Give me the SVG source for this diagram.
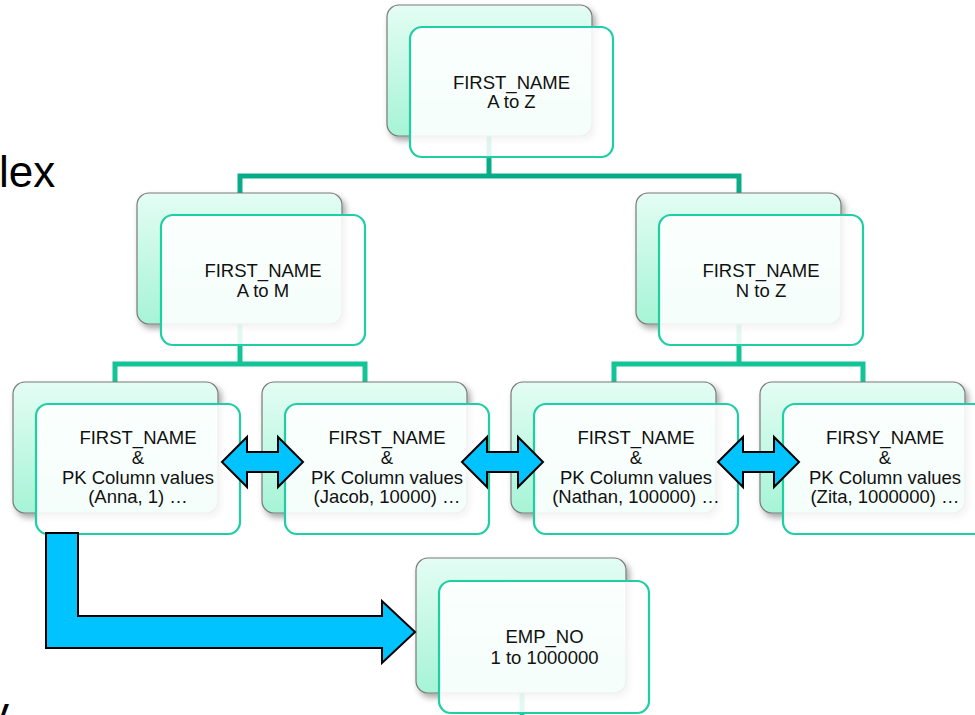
<svg xmlns="http://www.w3.org/2000/svg" width="975" height="715" viewBox="0 0 975 715">
  <defs>
    <linearGradient id="mint" x1="0" y1="0" x2="0" y2="1">
      <stop offset="0" stop-color="#e4fdf4"/>
      <stop offset="1" stop-color="#a6f4d6"/>
    </linearGradient>
    <filter id="shadow" x="-10%" y="-10%" width="125%" height="130%">
      <feDropShadow dx="3" dy="4" stdDeviation="3" flood-color="#000" flood-opacity="0.35"/>
    </filter>
  </defs>
  <style>
    .back { fill: url(#mint); stroke: #7a7a7a; stroke-width: 1.2; filter: url(#shadow); }
    .front { fill: #ffffff; fill-opacity: 0.88; stroke: #1fcfa4; stroke-width: 2.2; }
    .lbl { font-family: "Liberation Sans", Arial, sans-serif; font-size: 18.5px; fill: #111; text-anchor: middle; }
    .big { font-family: "Liberation Sans", Arial, sans-serif; font-size: 44px; fill: #000; }
    .wire { fill: none; stroke-width: 5; stroke-linejoin: miter; stroke-linecap: butt; }
    .w1 { stroke: #06ad87; }
    .w2 { stroke: #13c596; }
    .blue { fill: #00c3ff; stroke: #000; stroke-width: 2; stroke-linejoin: miter; }
  </style>

  <rect width="975" height="715" fill="#ffffff"/>

  <!-- partial heading text running off the left edge -->
  <text class="big" x="-1" y="187">lex</text>
  <text class="big" x="-13" y="728">y</text>

  <!-- tree connectors (drawn under the translucent front cards) -->
  <g id="connectors">
    <path class="wire w1" d="M489,136 V176 M240,193 V176 H739 V193"/>
    <path class="wire w2" d="M240,324 V364 M115,382 V364 H365 V382"/>
    <path class="wire w2" d="M739,324 V364 M614,382 V364 H863 V382"/>
    <path class="wire w2" d="M522,693 V715"/>
  </g>

  <g id="node-root">
    <rect class="back" x="387" y="5" width="205" height="131" rx="12"/>
    <rect class="front" x="410" y="27" width="203" height="130" rx="12"/>
    <text class="lbl" x="511.5" y="89">FIRST_NAME</text>
    <text class="lbl" x="511.5" y="108">A to Z</text>
  </g>

  <g id="node-a-m">
    <rect class="back" x="137" y="193" width="205" height="131" rx="12"/>
    <rect class="front" x="161" y="215" width="204" height="130" rx="12"/>
    <text class="lbl" x="263" y="277">FIRST_NAME</text>
    <text class="lbl" x="263" y="297">A to M</text>
  </g>

  <g id="node-n-z">
    <rect class="back" x="636" y="193" width="205" height="131" rx="12"/>
    <rect class="front" x="659" y="215" width="204" height="130" rx="12"/>
    <text class="lbl" x="761" y="277">FIRST_NAME</text>
    <text class="lbl" x="761" y="297">N to Z</text>
  </g>

  <g id="leaf-anna">
    <rect class="back" x="13" y="382" width="205" height="131" rx="12"/>
    <rect class="front" x="36" y="404" width="204" height="130" rx="12"/>
    <text class="lbl" x="138" y="444">FIRST_NAME</text>
    <text class="lbl" x="138" y="464">&amp;</text>
    <text class="lbl" x="138" y="484">PK Column values</text>
    <text class="lbl" x="138" y="503">(Anna, 1) …</text>
  </g>

  <g id="leaf-jacob">
    <rect class="back" x="262" y="382" width="205" height="131" rx="12"/>
    <rect class="front" x="285" y="404" width="204" height="130" rx="12"/>
    <text class="lbl" x="387" y="444">FIRST_NAME</text>
    <text class="lbl" x="387" y="464">&amp;</text>
    <text class="lbl" x="387" y="484">PK Column values</text>
    <text class="lbl" x="387" y="503">(Jacob, 10000) …</text>
  </g>

  <g id="leaf-nathan">
    <rect class="back" x="511" y="382" width="205" height="131" rx="12"/>
    <rect class="front" x="534" y="404" width="204" height="130" rx="12"/>
    <text class="lbl" x="636" y="444">FIRST_NAME</text>
    <text class="lbl" x="636" y="464">&amp;</text>
    <text class="lbl" x="636" y="484">PK Column values</text>
    <text class="lbl" x="636" y="503">(Nathan, 100000) …</text>
  </g>

  <g id="leaf-zita">
    <rect class="back" x="760" y="382" width="205" height="131" rx="12"/>
    <rect class="front" x="783" y="404" width="204" height="130" rx="12"/>
    <text class="lbl" x="885" y="444">FIRSY_NAME</text>
    <text class="lbl" x="885" y="464">&amp;</text>
    <text class="lbl" x="885" y="484">PK Column values</text>
    <text class="lbl" x="885" y="503">(Zita, 1000000) …</text>
  </g>

  <g id="node-emp-no">
    <rect class="back" x="416" y="558" width="210" height="135" rx="12"/>
    <rect class="front" x="439" y="581" width="210" height="132" rx="12"/>
    <text class="lbl" x="544.5" y="643">EMP_NO</text>
    <text class="lbl" x="544.5" y="664">1 to 1000000</text>
  </g>

  <!-- sibling links between leaf pages and the lookup arrow -->
  <g id="arrows">
    <polygon class="blue" points="222,462 247,437 247,452 278,452 278,437 303,462 278,487 278,472 247,472 247,487"/>
    <polygon class="blue" points="462,462 487,437 487,452 518,452 518,437 543,462 518,487 518,472 487,472 487,487"/>
    <polygon class="blue" points="718,462 743,437 743,452 774,452 774,437 799,462 774,487 774,472 743,472 743,487"/>
    <polygon class="blue" points="46,533 78,533 78,616 382,616 382,601 415,632 382,663 382,648 46,648"/>
  </g>
</svg>
